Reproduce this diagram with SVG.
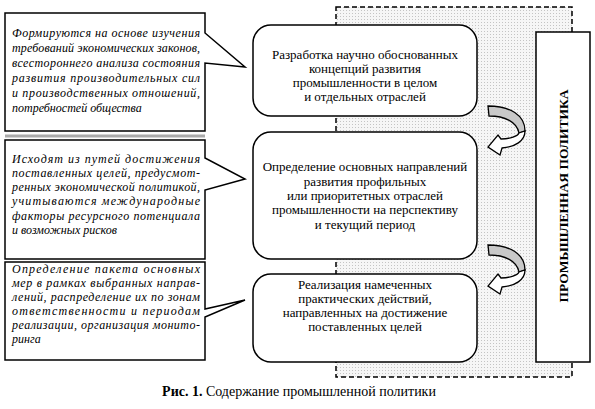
<svg xmlns="http://www.w3.org/2000/svg" width="595" height="409" viewBox="0 0 595 409">
<defs>
<pattern id="dots" x="0" y="0" width="3" height="3" patternUnits="userSpaceOnUse">
<rect width="3" height="3" fill="#f6f6f6"/>
<rect x="1" y="1" width="1" height="1" fill="#c4c4c4"/>
</pattern>
<style>
text{font-family:'Liberation Serif','Times New Roman',Tinos,'DejaVu Serif','Noto Serif',serif;fill:#000}
.call{fill:#fff;stroke:#000;stroke-width:1.5;stroke-linejoin:miter}
.box{fill:#fff;stroke:#000;stroke-width:1.5}
.ct{font-style:italic;font-size:12px}
.bt{font-size:13px;text-anchor:middle}
.gray{fill:#c8c8c8;stroke:#000;stroke-width:1.3}
.wht{fill:#fff;stroke:#000;stroke-width:1.3}
</style>
</defs>
<rect width="595" height="409" fill="#fff"/>

<g id="region">
<rect x="336" y="7" width="236" height="370" fill="url(#dots)" stroke="#000" stroke-width="1.5" stroke-dasharray="5,3"/>
</g>

<g id="callout1">
<line x1="5" y1="136" x2="205" y2="136" stroke="#aaa" stroke-width="3"/>
<path class="call" d="M5,13 H205 V33 L245,67 L205,63 V131 H5 Z"/>
<text class="ct" x="12" y="37" textLength="188" lengthAdjust="spacing">Формируются на основе изучения</text>
<text class="ct" x="12" y="52" textLength="188" lengthAdjust="spacing">требований экономических законов,</text>
<text class="ct" x="12" y="67" textLength="188" lengthAdjust="spacing">всестороннего анализа состояния</text>
<text class="ct" x="12" y="82" textLength="188" lengthAdjust="spacing">развития производительных сил</text>
<text class="ct" x="12" y="97" textLength="188" lengthAdjust="spacing">и производственных  отношений,</text>
<text class="ct" x="12" y="112">потребностей общества</text>
</g>

<g id="callout2">
<path class="call" d="M5,140 H205 V158 L245,179 L205,190 V259 H5 Z"/>
<text class="ct" x="12" y="163" textLength="188" lengthAdjust="spacing">Исходят из путей достижения</text>
<text class="ct" x="12" y="177" textLength="188" lengthAdjust="spacing">поставленных целей, предусмот-</text>
<text class="ct" x="12" y="191" textLength="188" lengthAdjust="spacing">ренных экономической политикой,</text>
<text class="ct" x="12" y="205" textLength="188" lengthAdjust="spacing">учитываются международные</text>
<text class="ct" x="12" y="220" textLength="188" lengthAdjust="spacing">факторы ресурсного потенциала</text>
<text class="ct" x="12" y="234">и возможных рисков</text>
</g>

<g id="callout3">
<path class="call" d="M5,262 H205 V309 L245,300 L205,317 V360 H5 Z"/>
<text class="ct" x="12" y="273" textLength="188" lengthAdjust="spacing">Определение пакета основных</text>
<text class="ct" x="12" y="287" textLength="188" lengthAdjust="spacing">мер в рамках выбранных направ-</text>
<text class="ct" x="12" y="301" textLength="188" lengthAdjust="spacing">лений, распределение их по зонам</text>
<text class="ct" x="12" y="315" textLength="188" lengthAdjust="spacing">ответственности и периодам</text>
<text class="ct" x="12" y="329" textLength="188" lengthAdjust="spacing">реализации, организация монито-</text>
<text class="ct" x="12" y="343">ринга</text>
</g>

<g id="box1">
<rect class="box" x="253" y="25" width="224" height="91" rx="18" ry="18"/>
<text class="bt" x="365" y="59">Разработка научно обоснованных</text>
<text class="bt" x="365" y="73">концепций развития</text>
<text class="bt" x="365" y="87">промышленности в целом</text>
<text class="bt" x="365" y="101">и отдельных отраслей</text>
</g>

<g id="box2">
<rect class="box" x="253" y="132" width="224" height="127" rx="18" ry="18"/>
<text class="bt" x="365" y="171">Определение основных направлений</text>
<text class="bt" x="365" y="186">развития профильных</text>
<text class="bt" x="365" y="200">или приоритетных отраслей</text>
<text class="bt" x="365" y="214">промышленности на перспективу</text>
<text class="bt" x="365" y="229">и текущий период</text>
</g>

<g id="box3">
<rect class="box" x="253" y="274" width="224" height="88" rx="18" ry="18"/>
<text class="bt" x="365" y="289">Реализация намеченных</text>
<text class="bt" x="365" y="303">практических действий,</text>
<text class="bt" x="365" y="317">направленных на достижение</text>
<text class="bt" x="365" y="331">поставленных целей</text>
</g>

<g id="policy">
<rect x="536" y="32" width="54" height="330" fill="#fff" stroke="#000" stroke-width="1.5"/>
<text transform="translate(568,196) rotate(-90)" font-weight="bold" font-size="13.5" text-anchor="middle">ПРОМЫШЛЕННАЯ ПОЛИТИКА</text>
</g>

<g id="connectors">
<g id="arrow1">
<path class="gray" d="M488,106 C510,106 525,115 525,131 L519,133 C517,122 505,116 489,116 Z"/>
<path class="wht" d="M525,131 C525,141 515,147 502,148 L500,155 L488,147 L498,135 L501,139 C510,139 518,136 519,133 Z"/>
</g>
<g id="arrow2" transform="translate(0,139)">
<path class="gray" d="M488,106 C510,106 525,115 525,131 L519,133 C517,122 505,116 489,116 Z"/>
<path class="wht" d="M525,131 C525,141 515,147 502,148 L500,155 L488,147 L498,135 L501,139 C510,139 518,136 519,133 Z"/>
</g>
</g>

<g id="caption">
<text x="299" y="396" font-size="14" text-anchor="middle"><tspan font-weight="bold">Рис. 1.</tspan> Содержание промышленной политики</text>
</g>
</svg>
